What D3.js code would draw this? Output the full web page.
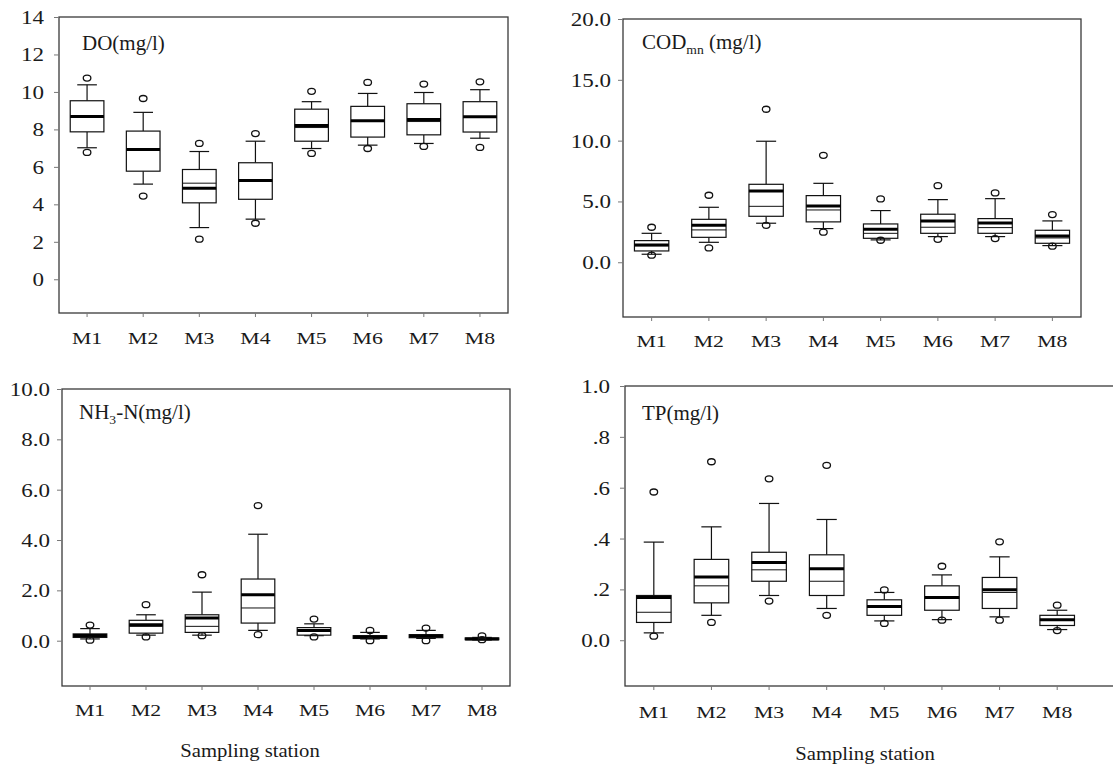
<!DOCTYPE html>
<html><head><meta charset="utf-8">
<script src="https://cdn.jsdelivr.net/npm/d3@7"></script>
<style>
html,body{margin:0;padding:0;background:#fff;}
svg{display:block;}
</style></head>
<body>
<svg id="chart" width="1113" height="765"></svg>
<script>
// ---------- data ----------
const stations = ["M1","M2","M3","M4","M5","M6","M7","M8"];
// each row: [lowOutlier, lowWhisker, q1, median, q3, highWhisker, highOutlier, mean]
const doValues = [
  [6.77, 7.02, 7.87, 8.65, 9.53, 10.38, 10.74, 8.69],
  [4.44, 5.08, 5.77, 6.90, 7.91, 8.91, 9.65, 6.93],
  [2.14, 2.76, 4.08, 5.13, 5.86, 6.82, 7.25, 4.86],
  [2.99, 3.21, 4.27, 5.25, 6.22, 7.37, 7.78, 5.27],
  [6.72, 6.98, 7.37, 8.10, 9.08, 9.48, 10.03, 8.21],
  [6.98, 7.16, 7.59, 8.44, 9.23, 9.92, 10.51, 8.46],
  [7.09, 7.25, 7.71, 8.42, 9.37, 9.97, 10.42, 8.53],
  [7.04, 7.53, 7.86, 8.65, 9.48, 10.12, 10.54, 8.67]
];
const codValues = [
  [0.58, 0.66, 0.93, 1.36, 1.78, 2.38, 2.88, 1.42],
  [1.18, 1.64, 2.05, 2.66, 3.53, 4.52, 5.51, 3.04],
  [3.04, 3.21, 3.78, 4.60, 6.41, 9.95, 12.58, 5.86],
  [2.47, 2.77, 3.32, 4.30, 5.48, 6.49, 8.79, 4.63],
  [1.81, 1.84, 1.97, 2.38, 3.15, 4.25, 5.21, 2.71],
  [1.89, 2.11, 2.38, 2.88, 3.95, 5.15, 6.30, 3.40],
  [1.95, 2.11, 2.38, 2.85, 3.59, 5.23, 5.70, 3.23],
  [1.32, 1.37, 1.56, 2.00, 2.63, 3.40, 3.92, 2.16]
];
const nhValues = [
  [0.02, 0.07, 0.13, 0.18, 0.27, 0.48, 0.62, 0.21],
  [0.15, 0.22, 0.30, 0.57, 0.81, 1.03, 1.43, 0.63],
  [0.20, 0.22, 0.33, 0.57, 1.03, 1.93, 2.62, 0.90],
  [0.24, 0.41, 0.70, 1.30, 2.45, 4.23, 5.37, 1.83],
  [0.15, 0.20, 0.22, 0.37, 0.52, 0.67, 0.86, 0.41],
  [0.00, 0.07, 0.09, 0.14, 0.20, 0.33, 0.41, 0.15],
  [0.00, 0.09, 0.12, 0.17, 0.24, 0.41, 0.50, 0.19],
  [0.04, 0.03, 0.04, 0.06, 0.11, 0.13, 0.19, 0.07]
];
const tpValues = [
  [0.016, 0.029, 0.070, 0.110, 0.176, 0.386, 0.583, 0.168],
  [0.070, 0.098, 0.147, 0.214, 0.318, 0.446, 0.702, 0.249],
  [0.154, 0.176, 0.232, 0.277, 0.346, 0.538, 0.635, 0.306],
  [0.098, 0.125, 0.176, 0.232, 0.336, 0.475, 0.688, 0.281],
  [0.066, 0.076, 0.098, 0.131, 0.159, 0.188, 0.198, 0.133],
  [0.079, 0.081, 0.118, 0.166, 0.214, 0.257, 0.291, 0.168],
  [0.079, 0.092, 0.125, 0.188, 0.247, 0.328, 0.387, 0.199],
  [0.038, 0.042, 0.058, 0.079, 0.098, 0.118, 0.138, 0.081]
];
const doTicks = [0, 2, 4, 6, 8, 10, 12, 14];
const doTickLabels = ["0", "2", "4", "6", "8", "10", "12", "14"];
const codTicks = [0, 5, 10, 15, 20];
const codTickLabels = ["0.0", "5.0", "10.0", "15.0", "20.0"];
const nhTicks = [0, 2, 4, 6, 8, 10];
const nhTickLabels = ["0.0", "2.0", "4.0", "6.0", "8.0", "10.0"];
const tpTicks = [0, 0.2, 0.4, 0.6, 0.8, 1.0];
const tpTickLabels = ["0.0", ".2", ".4", ".6", ".8", "1.0"];
const xAxisTitle = "Sampling station";

// ---------- layout ----------
const FONT = "Liberation Serif, Times New Roman, serif";
const SX = 1.28; // horizontal stretch of the original figure's text
const panels = [
  {values: doValues, ticks: doTicks, labels: doTickLabels, domain: [-1.8, 14],
   left: 59, right: 508, frameRight: 508, top: 17, bottom: 313, gap: 15, catBase: 344,
   title: [["DO(mg/l)", 0]], titleX: 82, titleY: 50, xTitle: null},
  {values: codValues, ticks: codTicks, labels: codTickLabels, domain: [-4.5, 20],
   left: 623, right: 1081, frameRight: 1081, top: 19, bottom: 317, gap: 12, catBase: 347,
   title: [["COD", 0], ["mn", 1], [" (mg/l)", -1]], titleX: 642, titleY: 49, xTitle: null},
  {values: nhValues, ticks: nhTicks, labels: nhTickLabels, domain: [-1.8, 10],
   left: 62, right: 510, frameRight: 510, top: 389, bottom: 686, gap: 12, catBase: 716,
   title: [["NH", 0], ["3", 1], ["-N(mg/l)", -1]], titleX: 79, titleY: 419,
   xTitle: {x: 250, y: 757}},
  {values: tpValues, ticks: tpTicks, labels: tpTickLabels, domain: [-0.18, 1.0],
   left: 625, right: 1086, frameRight: 1125, top: 386, bottom: 686, gap: 15, catBase: 718,
   title: [["TP(mg/l)", 0]], titleX: 642, titleY: 420,
   xTitle: {x: 865, y: 760}}
];

const svg = d3.select("#chart");

panels.forEach(p => {
  const g = svg.append("g");
  const x = d3.scaleBand().domain(stations).range([p.left, p.right]).padding(0);
  const y = d3.scaleLinear().domain(p.domain).range([p.bottom, p.top]);
  const bw = x.bandwidth() * 0.6;
  const cw = x.bandwidth() * 0.35;

  // frame
  g.append("rect")
    .attr("x", p.left).attr("y", p.top)
    .attr("width", p.frameRight - p.left).attr("height", p.bottom - p.top)
    .attr("fill", "none").attr("stroke", "#3a3a3a").attr("stroke-width", 1.3);

  // y axis
  const ya = g.append("g").attr("transform", `translate(${p.left},0)`)
    .call(d3.axisLeft(y).tickValues(p.ticks).tickFormat((d, i) => p.labels[i]).tickSize(5))
    .attr("font-family", FONT).attr("font-size", 18);
  ya.select(".domain").remove();
  ya.selectAll(".tick line").attr("stroke", "#777");
  ya.selectAll(".tick text")
    .attr("x", -p.gap / SX).attr("dy", "0.36em")
    .attr("transform", `scale(${SX},1)`)
    .style("font-family", FONT).style("font-size", "18px").attr("fill", "#1a1a1a");

  // x axis
  const xa = g.append("g").attr("transform", `translate(0,${p.bottom})`)
    .call(d3.axisBottom(x).tickSize(4))
    .attr("font-family", FONT).attr("font-size", 17);
  xa.select(".domain").remove();
  xa.selectAll(".tick line").attr("stroke", "#777");
  xa.selectAll(".tick text")
    .attr("y", p.catBase - p.bottom).attr("dy", 0)
    .attr("transform", `scale(${SX},1)`)
    .style("font-family", FONT).style("font-size", "17px").attr("fill", "#1a1a1a");

  // boxes
  const rows = p.values.map((v, i) => ({s: stations[i], v}));
  const bg = g.selectAll("g.box").data(rows).join("g").attr("class", "box")
    .attr("transform", d => `translate(${x(d.s) + x.bandwidth() / 2},0)`);
  // whiskers
  bg.append("line").attr("x1", 0).attr("x2", 0)
    .attr("y1", d => y(d.v[1])).attr("y2", d => y(d.v[2]))
    .attr("stroke", "#111").attr("stroke-width", 1.2);
  bg.append("line").attr("x1", 0).attr("x2", 0)
    .attr("y1", d => y(d.v[4])).attr("y2", d => y(d.v[5]))
    .attr("stroke", "#111").attr("stroke-width", 1.2);
  bg.append("line").attr("x1", -cw / 2).attr("x2", cw / 2)
    .attr("y1", d => y(d.v[1])).attr("y2", d => y(d.v[1]))
    .attr("stroke", "#111").attr("stroke-width", 1.2);
  bg.append("line").attr("x1", -cw / 2).attr("x2", cw / 2)
    .attr("y1", d => y(d.v[5])).attr("y2", d => y(d.v[5]))
    .attr("stroke", "#111").attr("stroke-width", 1.2);
  // box
  bg.append("rect").attr("x", -bw / 2).attr("width", bw)
    .attr("y", d => y(d.v[4])).attr("height", d => Math.max(0.5, y(d.v[2]) - y(d.v[4])))
    .attr("fill", "#fff").attr("stroke", "#111").attr("stroke-width", 1.2);
  // median (thin)
  bg.append("line").attr("x1", -bw / 2).attr("x2", bw / 2)
    .attr("y1", d => y(d.v[3])).attr("y2", d => y(d.v[3]))
    .attr("stroke", "#111").attr("stroke-width", 1);
  // mean (thick)
  bg.append("line").attr("x1", -bw / 2).attr("x2", bw / 2)
    .attr("y1", d => y(d.v[7])).attr("y2", d => y(d.v[7]))
    .attr("stroke", "#000").attr("stroke-width", 3);
  // outliers
  [0, 6].forEach(k => {
    bg.append("ellipse").attr("cx", 0).attr("cy", d => y(d.v[k]))
      .attr("rx", 3.8).attr("ry", 3)
      .attr("fill", "none").attr("stroke", "#111").attr("stroke-width", 1.3);
  });

  // title
  const t = g.append("text").attr("transform", `translate(${p.titleX},${p.titleY}) scale(1.05,1)`)
    .style("font-family", FONT).attr("font-size", 20).attr("fill", "#1a1a1a");
  p.title.forEach(([s, sub]) => {
    const ts = t.append("tspan").text(s);
    if (sub === 1) ts.attr("font-size", 13).attr("dy", 5);
    else if (sub === -1) ts.attr("dy", -5);
  });

  if (p.xTitle) {
    g.append("text").attr("transform", `translate(${p.xTitle.x},${p.xTitle.y}) scale(1.15,1)`)
      .attr("text-anchor", "middle")
      .style("font-family", FONT).attr("font-size", 18).attr("fill", "#1a1a1a")
      .text(xAxisTitle);
  }
});
</script>
</body></html>
